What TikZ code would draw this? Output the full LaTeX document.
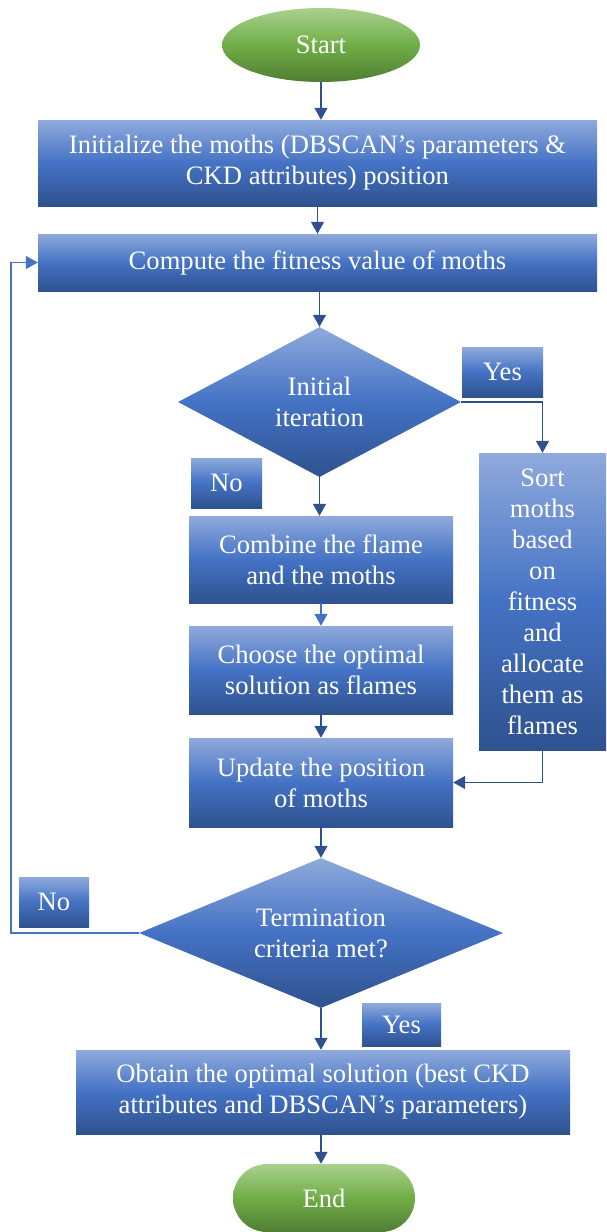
\documentclass[tikz,border=0pt]{standalone}
\usepackage{fontspec}
\setmainfont{Liberation Serif}
\usetikzlibrary{shapes.geometric,arrows.meta}
\definecolor{bltop}{HTML}{8FAADC}
\definecolor{blmid}{HTML}{4472C4}
\definecolor{blbot}{HTML}{2F528F}
\definecolor{grtop}{HTML}{A9D18E}
\definecolor{grmid}{HTML}{70AD47}
\definecolor{grbot}{HTML}{507E32}
\definecolor{arrdark}{HTML}{2F528F}
\definecolor{arrlight}{HTML}{4472C4}
\begin{document}
\begin{tikzpicture}[x=1pt,y=-1pt,
  txt/.style={text=white, align=center, inner sep=0pt, font=\fontsize{26.6}{31}\selectfont},
  bluefill/.style={top color=bltop, bottom color=blbot, middle color=blmid},
  greenfill/.style={top color=grtop, bottom color=grbot, middle color=grmid},
  box/.style={rectangle, bluefill, txt},
  decision/.style={diamond, bluefill, txt},
  arr/.style={draw=arrdark, line width=1.4pt, -{Triangle[length=12pt,width=13pt]}},
  arrl/.style={draw=arrlight, line width=1.4pt, -{Triangle[length=12pt,width=13pt]}}]
\useasboundingbox (0,0) rectangle (606,1232);
\node[ellipse, greenfill, txt, minimum width=198pt, minimum height=74pt] (start) at (321,45) {Start};
\node[box, minimum width=559pt, minimum height=86pt] (init) at (317.5,163) {Initialize the moths (DBSCAN’s parameters \&\\CKD attributes) position};
\node[box, minimum width=559pt, minimum height=57pt] (compute) at (317.5,262.5) {Compute the fitness value of moths};
\node[decision, minimum width=283pt, minimum height=150pt, aspect=1.89] (dia1) at (319.5,402) {Initial\\iteration};
\node[box, minimum width=81pt, minimum height=50pt] (yes1) at (502.5,372) {Yes};
\node[box, minimum width=127pt, minimum height=297pt] (sort) at (542.5,601.5) {Sort\\moths\\based\\on\\fitness\\and\\allocate\\them as\\flames};
\node[box, minimum width=71pt, minimum height=50pt] (no1) at (226.5,483) {No};
\node[box, minimum width=264pt, minimum height=87pt] (combine) at (321,559.5) {Combine the flame\\and the moths};
\node[box, minimum width=264pt, minimum height=88pt] (choose) at (321,670) {Choose the optimal\\solution as flames};
\node[box, minimum width=264pt, minimum height=89pt] (update) at (321,782.5) {Update the position\\of moths};
\node[decision, minimum width=364pt, minimum height=150pt, aspect=2.43] (dia2) at (321,933) {Termination\\criteria met?};
\node[box, minimum width=70pt, minimum height=50pt] (no2) at (54,902) {No};
\node[box, minimum width=79pt, minimum height=43pt] (yes2) at (401.5,1024.5) {Yes};
\node[box, minimum width=494pt, minimum height=84pt] (obtain) at (323,1092) {Obtain the optimal solution (best CKD\\attributes and DBSCAN’s parameters)};
\node[rectangle, rounded corners=34pt, greenfill, txt, minimum width=182pt, minimum height=68pt] (end) at (324,1198) {End};
\coordinate (fb) at (11,600);
\draw[arr] (start.south) -- (start.south|-init.north);
\draw[arr] (init.south) -- (compute.north);
\draw[arr] (dia1.north|-compute.south) -- (dia1.north);
\draw[arr] (dia1.south) -- (dia1.south|-combine.north);
\draw[arrl] (combine.south) -- (choose.north);
\draw[arr] (choose.south) -- (update.north);
\draw[arr] (update.south) -- (dia2.north);
\draw[arr] (dia2.south) -- (dia2.south|-obtain.north);
\draw[arr] (obtain.south-|dia2.south) -- (end.north-|dia2.south);
\draw[arr] (dia1.east) -| (sort.north);
\draw[arr] (sort.south) |- (update.east);
\draw[arrl, line width=1.2pt] (dia2.west) -- (dia2.west-|fb) |- (compute.west);
\end{tikzpicture}
\end{document}
